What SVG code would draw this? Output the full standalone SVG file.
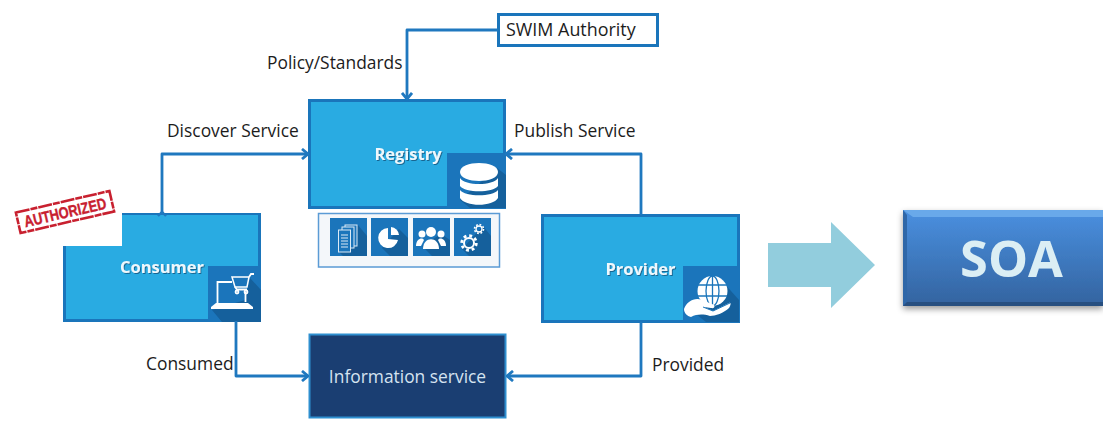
<svg xmlns="http://www.w3.org/2000/svg" width="1103" height="423" viewBox="0 0 1103 423">
<style>
text{font-family:"Open Sans","Noto Sans","Liberation Sans",sans-serif}
.lbl{font-size:17.400px;fill:#1c1c1c}
.box{fill:#29abe2;stroke:#1a75bb;stroke-width:3}
.name{font-size:16.500px;font-weight:700;fill:#eef8fd;text-anchor:middle;filter:url(#ts)}
.tile{fill:#1b75bb}
.shade{fill:#15609c}
.ic{fill:#fff}
.icl{fill:none;stroke:#fff;stroke-width:1.800}
.con{fill:none;stroke:#1f78bf;stroke-width:2.800;stroke-linejoin:round}
</style>
<defs>
<marker id="arr" viewBox="0 0 10 12" refX="9" refY="6" markerWidth="10" markerHeight="12" markerUnits="userSpaceOnUse" orient="auto"><path d="M3 1 L9 6 L3 11" fill="none" stroke="#1f78bf" stroke-width="2.800"/></marker>
<filter id="ts" x="-10%" y="-20%" width="125%" height="150%"><feDropShadow dx="1" dy="1" stdDeviation="0.7" flood-color="#0b4a70" flood-opacity="0.7"/></filter>
<filter id="sh" x="-5%" y="-10%" width="110%" height="125%"><feDropShadow dx="0" dy="3" stdDeviation="3" flood-color="#000" flood-opacity="0.4"/></filter>
<linearGradient id="soa" x1="0" y1="0" x2="0" y2="1"><stop offset="0" stop-color="#4a90e0"/><stop offset="1" stop-color="#33639f"/></linearGradient>
</defs>

<g id="labels">
<text class="lbl" x="267" y="69">Policy/Standards</text>
<text class="lbl" x="167" y="137">Discover Service</text>
<text class="lbl" x="514" y="137">Publish Service</text>
<text class="lbl" x="146" y="370">Consumed</text>
<text class="lbl" x="652" y="371">Provided</text>
</g>

<g id="swim-authority">
<rect x="498.500" y="14.500" width="159" height="31" fill="#fff" stroke="#1a75bb" stroke-width="3"/>
<text x="506" y="36" font-size="17.900" fill="#1c1c1c">SWIM Authority</text>
</g>

<g id="registry">
<rect class="box" x="309.500" y="100.500" width="195" height="107"/>
<rect class="tile" x="447" y="153" width="59" height="56"/>
<path class="shade" d="M460 200 L470 208 H506 V175 L497 168 Z"/>
<g class="ic">
<path d="M460 172 C460 160 498 160 498 172 C498 184 460 184 460 172Z"/>
<path d="M460 178 C465 186 493 186 498 178 V186 C493 193 465 193 460 186Z"/>
<path d="M460 190 C465 197 493 197 498 190 V198 C493 207 465 207 460 198Z"/>
</g>
<text class="name" x="408" y="160">Registry</text>
</g>

<g id="registry-tools">
<rect x="318.500" y="213.500" width="181" height="53.500" fill="#f4f7fa" stroke="#5b9bd5" stroke-width="1.500"/>
<rect class="tile" x="330" y="218" width="37" height="38"/>
<rect class="tile" x="371" y="218" width="37" height="38"/>
<rect class="tile" x="413" y="218" width="37" height="38"/>
<rect class="tile" x="454" y="218" width="37" height="38"/>
<path class="shade" d="M339 252 L343 256 H367 V236 L358 225Z"/>
<path class="shade" d="M382 248 L390 256 H408 V238 L399 229Z"/>
<path class="shade" d="M422 246 L432 256 H450 V240 L441 234Z"/>
<path class="shade" d="M462 249 L469 256 H491 V236 L483 226Z"/>
<g fill="#1b75bb" stroke="#dbeaf6" stroke-width="1">
<rect x="345" y="225" width="12" height="21"/>
<rect x="342" y="227" width="12" height="21"/>
<rect x="338.500" y="230" width="12" height="22"/>
</g>
<path d="M341 235 H348 M341 238 H348 M341 241 H348 M341 244 H348 M341 247 H348" stroke="#dbeaf6" stroke-width="1.100" fill="none"/>
<path class="ic" d="M388 228 A10 10 0 1 0 398 240 L388 239Z"/>
<path class="ic" d="M391 227 A9 9 0 0 1 399 235 H391Z"/>
<g class="ic">
<circle cx="431" cy="232" r="5"/><path d="M423 249 C423 236 439 236 439 249Z"/>
<circle cx="422" cy="234" r="3.500"/><path d="M416 246 C416 238 423 237 424 240 L421 246Z"/>
<circle cx="441" cy="234" r="3.500"/><path d="M446 246 C446 238 439 237 438 240 L441 246Z"/>
</g>
<g fill="none" stroke="#fff">
<circle cx="469" cy="243" r="5" stroke-width="2"/>
<circle cx="469" cy="243" r="7.300" stroke-width="2.800" stroke-dasharray="2.900 2.830"/>
<circle cx="479" cy="229" r="3" stroke-width="1.300"/>
<circle cx="479" cy="229" r="4.500" stroke-width="1.600" stroke-dasharray="1.800 1.730"/>
</g>
</g>

<g id="consumer">
<path d="M122 213 H261 V322 H63 V246 H122 Z" fill="#1a75bb"/>
<path d="M122 215 H258 V319 H66 V246 H122 Z" fill="#29abe2"/>
<rect class="tile" x="208" y="266" width="53" height="56"/>
<path class="shade" d="M212 310 L222 322 H261 V290 L250 278 L245 300 Z"/>
<g class="icl">
<path d="M217.500 304 V282 H232 M245.500 292 V302"/>
<path d="M232 277 H249 L247 287 H235 Z" stroke-width="1.500"/>
<path d="M249 277 L251 274 H254 M235 287 L237 289.500 H247"/>
<circle cx="237" cy="292" r="1.500"/><circle cx="246" cy="292" r="1.500"/>
</g>
<path class="ic" d="M216 303 H248 L253 307 V309 H211 V307 Z"/>
<text class="name" x="162" y="273" font-size="17">Consumer</text>
</g>

<g id="authorized-stamp" transform="rotate(-13 65 212)">
<rect x="17" y="201.500" width="96" height="21" fill="none" stroke="#c8202f" stroke-width="2.600" stroke-dasharray="14 1 7 1"/>
<text x="65" y="218" font-size="16" font-weight="700" fill="#c8202f" stroke="#c8202f" stroke-width="0.400" text-anchor="middle" style="font-family:'Liberation Sans',sans-serif" textLength="84" lengthAdjust="spacingAndGlyphs">AUTHORIZED</text>
</g>

<g id="provider">
<rect class="box" x="542.500" y="215.500" width="196" height="106"/>
<rect class="tile" x="683" y="266" width="57" height="57"/>
<path class="shade" d="M723 282 L739 300 V322 H706 L692 311 Z"/>
<circle class="ic" cx="712.500" cy="291" r="15"/>
<g fill="none" stroke="#1b75bb" stroke-width="1.300">
<ellipse cx="712.500" cy="291" rx="6.500" ry="15"/>
<path d="M712.500 276 V306 M698 285 H727 M698 296 H727"/>
</g>
<path class="ic" d="M684 309 C687 301 695 297 702 300 L712 304 C716 305 715 309 711 308 L704 307 L713 311 L729 303 C732 302 730 307 729 308 C724 313 715 316 710 316 C703 314 697 314 691 317 C687 316 684 313 684 309Z"/>
<path d="M703 307 L713 311 L730 303" fill="none" stroke="#1b75bb" stroke-width="1"/>
<text class="name" x="640.500" y="275">Provider</text>
</g>

<g id="information-service">
<rect x="309.500" y="334.500" width="196" height="83" fill="#1a3e72" stroke="#2e8fd0" stroke-width="2"/>
<text x="407.500" y="383" font-size="17.400" fill="#d5e3f0" text-anchor="middle">Information service</text>
</g>

<g id="connectors">
<path class="con" d="M498 30 H407 V99" marker-end="url(#arr)"/>
<path class="con" d="M162 215 V154 H308" marker-end="url(#arr)"/>
<path class="con" d="M641 215 V154 H506" marker-end="url(#arr)"/>
<path class="con" d="M236 321 V376 H308" marker-end="url(#arr)"/>
<path class="con" d="M641 322 V376 H507" marker-end="url(#arr)"/>
<path d="M158 216 L162 212 L166 216" fill="none" stroke="#1f78bf" stroke-width="2.400"/>
</g>

<polygon id="big-arrow" points="768,243 831,243 831,222 875,265 831,308 831,287 768,287" fill="#92cddd"/>

<g id="soa">
<rect x="903" y="210" width="200" height="96" fill="url(#soa)" filter="url(#sh)"/>
<path d="M903 210 H1103 V217 H913 Z" fill="#69a9ea"/>
<path d="M903 210 L907 215 V302 L903 306 Z" fill="#2f67a8"/>
<path d="M903 306 L907 302 H1103 V306 Z" fill="#274f80"/>
<text x="1011.500" y="277" font-size="50.500" font-weight="700" fill="#dbeef4" text-anchor="middle">SOA</text>
</g>
</svg>
